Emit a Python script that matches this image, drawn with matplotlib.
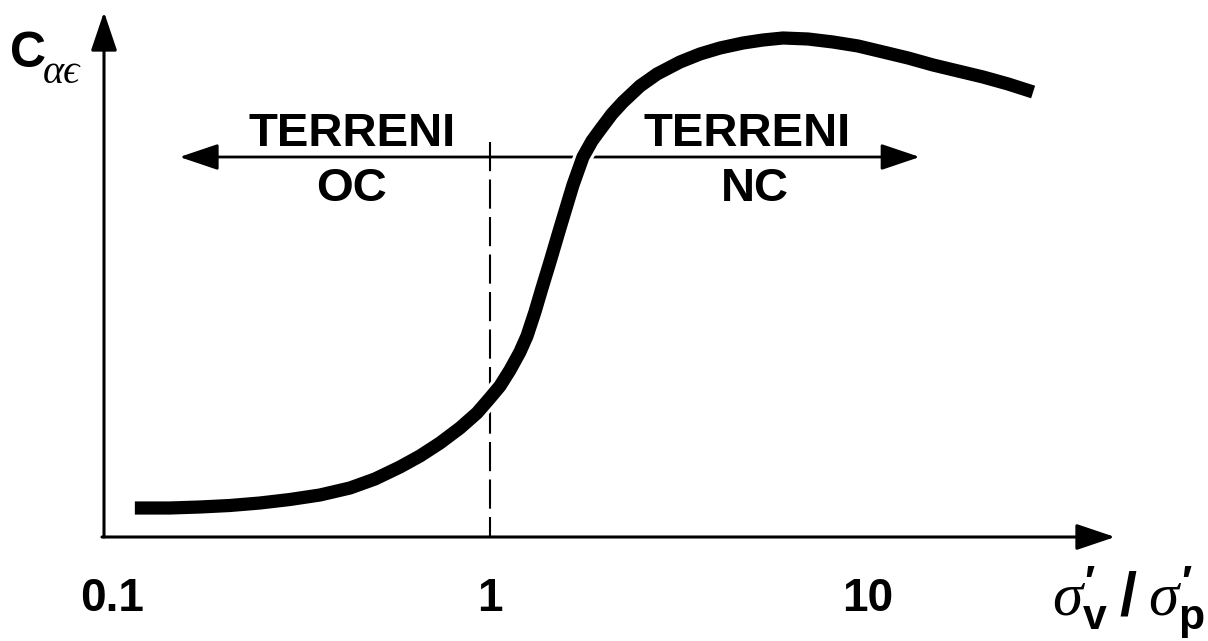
"""Secondary compression coefficient vs. stress ratio (OC / NC soils sketch)."""

import matplotlib

matplotlib.use("Agg")
import matplotlib.pyplot as plt
import matplotlib.patheffects as pe
from matplotlib.ticker import NullFormatter

W, H = 1208, 641

# curve: stress ratio vs C_alpha_eps (arbitrary units)
RATIO = [0.1150, 0.1423, 0.1709, 0.2051, 0.2463, 0.2957, 0.3550, 0.4262,
         0.4963, 0.5779, 0.6528, 0.7375, 0.8329, 0.9239, 1.000, 1.063,
         1.130, 1.200, 1.253, 1.315, 1.373, 1.441, 1.532, 1.658,
         1.762, 1.861, 1.954, 2.102, 2.248, 2.494, 2.766, 3.182,
         3.594, 4.060, 4.670, 5.275, 5.958, 6.939, 8.080, 9.408,
         10.96, 12.76, 14.86, 17.30, 20.15, 23.47, 27.33]
C_ALPHA = [0.058, 0.058, 0.060, 0.063, 0.068, 0.075, 0.084, 0.098,
           0.116, 0.140, 0.162, 0.188, 0.218, 0.248, 0.278, 0.302,
           0.334, 0.370, 0.402, 0.450, 0.498, 0.550, 0.618, 0.704,
           0.760, 0.792, 0.814, 0.846, 0.870, 0.902, 0.926, 0.950,
           0.966, 0.978, 0.988, 0.994, 0.998, 0.996, 0.990, 0.982,
           0.970, 0.958, 0.944, 0.932, 0.920, 0.906, 0.890]

TICK_POS = [0.1, 1, 10]
TICK_LABELS = ["0.1", "1", "10"]
MARK_TICKS = [10]

DIVIDE_X = 1.0          # sigma'v / sigma'p = 1 boundary
DIVIDE_TOP = 0.79
ARROW_Y = 0.76
ARROW_LEFT, ARROW_RIGHT = 0.151, 13.7

SANS = "Liberation Sans"
SERIF = ["Liberation Serif", "DejaVu Serif"]

plt.rcParams["mathtext.fontset"] = "custom"
plt.rcParams["mathtext.it"] = "Liberation Serif:italic"
plt.rcParams["mathtext.bf"] = "Liberation Sans:bold"
plt.rcParams["mathtext.rm"] = "Liberation Sans:bold"


def fpos(x, y):
    return x / W, 1 - y / H


fig = plt.figure(figsize=(W / 100, H / 100), dpi=100)
ax = fig.add_axes([104 / W, 1 - 537 / H, (1115 - 104) / W, (537 - 12) / H])
ax.set_xscale("log")
ax.set_xlim(0.0953, 45.0)
ax.set_ylim(0, 1.05)
for s in ax.spines.values():
    s.set_visible(False)
ax.set_yticks([])

# axes drawn as arrows
axis_arrow = dict(arrowstyle="-|>,head_length=0.8,head_width=0.27",
                  mutation_scale=30, lw=2.2, color="black",
                  shrinkA=0, shrinkB=0)
ax.annotate("", xy=(1, 0), xytext=(-0.002, 0), xycoords="axes fraction",
            arrowprops=axis_arrow, annotation_clip=False)
ax.annotate("", xy=(0, 1), xytext=(0, 0), xycoords="axes fraction",
            arrowprops=axis_arrow, annotation_clip=False)

# ticks
ax.set_xticks(TICK_POS, labels=TICK_LABELS)
ax.set_xticks(MARK_TICKS, minor=True)
ax.xaxis.set_minor_formatter(NullFormatter())
ax.tick_params(axis="x", which="major", length=0, pad=29)
ax.tick_params(axis="x", which="minor", direction="in", length=11, width=1.8)
for lab in ax.get_xticklabels():
    lab.set_fontfamily(SANS)
    lab.set_fontweight("bold")
    lab.set_fontsize(33)

# OC / NC boundary
ax.plot([DIVIDE_X, DIVIDE_X], [DIVIDE_TOP, 0], color="black", lw=1.5,
        linestyle=(0, (14, 4)), zorder=2)

# double-headed arrow
ax.annotate("", xy=(ARROW_RIGHT, ARROW_Y), xytext=(ARROW_LEFT, ARROW_Y),
            arrowprops=dict(arrowstyle="<|-|>,head_length=0.8,head_width=0.27",
                            mutation_scale=30, lw=2.0, color="black",
                            shrinkA=0, shrinkB=0), zorder=2)

# curve
ax.plot(RATIO, C_ALPHA, color="black", lw=9.5, solid_capstyle="butt",
        solid_joinstyle="round", zorder=3,
        path_effects=[pe.Stroke(linewidth=14, foreground="white"), pe.Normal()])

# region labels
lab_kw = dict(family=SANS, weight="bold", fontsize=34, ha="center", va="baseline")
ax.text(0.431, 0.782, "TERRENI", **lab_kw)
ax.text(0.431, 0.672, "OC", **lab_kw)
ax.text(4.79, 0.782, "TERRENI", **lab_kw)
ax.text(5.02, 0.672, "NC", **lab_kw)

# y label  C_alpha_eps
fig.text(*fpos(10, 67), "C", family=SANS, weight="bold", fontsize=36,
         ha="left", va="baseline")
fig.text(*fpos(43, 83), "αϵ", family=SERIF, style="italic", fontsize=29,
         ha="left", va="baseline")

# x label  sigma'v / sigma'p
fig.text(*fpos(1205, 615),
         r"$\sigma^{\prime}_{\mathbf{v}}\;/\;\sigma^{\prime}_{\mathbf{p}}$",
         fontsize=44, ha="right", va="baseline")

fig.savefig("out.png", dpi=100)
